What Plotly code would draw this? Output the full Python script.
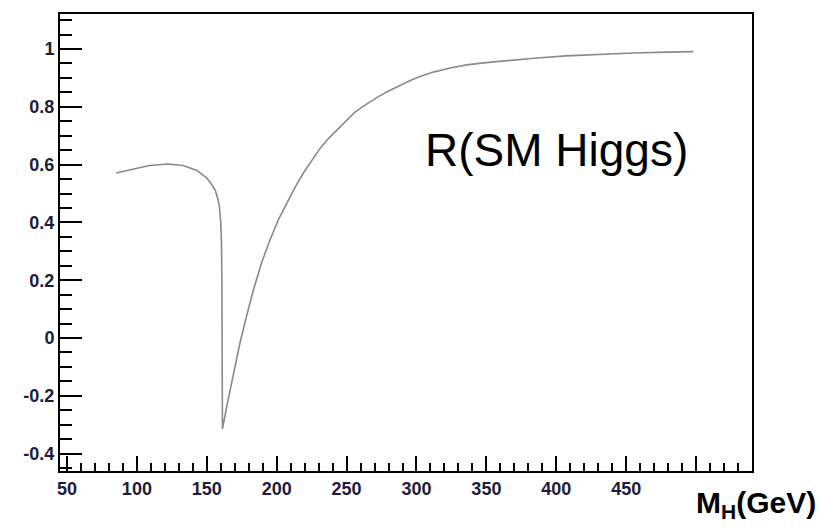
import plotly.graph_objects as go

# Higgs mass (GeV) and the ratio R for the Standard Model Higgs
mass = [85, 97, 109, 122, 133, 143, 150, 153, 156, 158, 159, 160, 160.5,
        160.8, 161.0, 161.2, 164.2, 168.5, 173.7, 178.5, 183.3, 189, 195.2,
        201, 207.2, 213, 219, 225, 231, 237, 243, 249, 255, 261, 267, 273,
        279, 285, 290, 296, 302, 312, 324, 336, 348, 360, 384, 407, 431,
        455, 479, 498]
ratio = [0.571, 0.584, 0.597, 0.602, 0.597, 0.580, 0.553, 0.535, 0.512,
         0.480, 0.454, 0.398, 0.330, 0.200, 0.000, -0.315, -0.238, -0.135,
         -0.018, 0.077, 0.165, 0.258, 0.339, 0.407, 0.466, 0.520, 0.570,
         0.615, 0.656, 0.690, 0.720, 0.750, 0.777, 0.799, 0.818, 0.836,
         0.852, 0.867, 0.879, 0.892, 0.904, 0.920, 0.934, 0.945, 0.952,
         0.958, 0.968, 0.976, 0.982, 0.986, 0.989, 0.991]

x_ticks = [50, 100, 150, 200, 250, 300, 350, 400, 450]
x_labels = ["50", "100", "150", "200", "250", "300", "350", "400", "450"]
x_unlabelled = [500]
y_ticks = [-0.4, -0.2, 0, 0.2, 0.4, 0.6, 0.8, 1]
y_labels = ["-0.4", "-0.2", "0", "0.2", "0.4", "0.6", "0.8", "1"]

x_range = [45, 540]
y_range = [-0.46, 1.121]

tick_font = dict(family="Liberation Sans, Arial", size=18, color="#1c1c3c",
                 weight="bold")

fig = go.Figure()
fig.add_trace(go.Scatter(x=mass, y=ratio, mode="lines",
                         line=dict(color="#8a8a8a", width=1.6),
                         showlegend=False, hoverinfo="skip"))
# empty trace so the overlay axis carrying the last major tick is drawn
fig.add_trace(go.Scatter(x=[None], y=[None], xaxis="x2", mode="lines",
                         showlegend=False, hoverinfo="skip"))

fig.update_layout(
    xaxis=dict(range=x_range, showgrid=False, zeroline=False,
               showline=True, linecolor="black", linewidth=2, mirror=True,
               ticks="inside", ticklen=15, tickwidth=2, tickcolor="black",
               tickvals=x_ticks, ticktext=x_labels, tickfont=tick_font,
               minor=dict(ticks="inside", ticklen=8, tickwidth=2,
                          tickcolor="black", dtick=10, tick0=0)),
    xaxis2=dict(range=x_range, overlaying="x", anchor="y", side="bottom",
                showgrid=False, zeroline=False, showline=False,
                ticks="inside", ticklen=15, tickwidth=2, tickcolor="black",
                tickvals=x_unlabelled, showticklabels=False),
    yaxis=dict(range=y_range, showgrid=False, zeroline=False,
               showline=True, linecolor="black", linewidth=2, mirror=True,
               ticks="inside", ticklen=22, tickwidth=2, tickcolor="black",
               tickvals=y_ticks, ticktext=y_labels, tickfont=tick_font,
               minor=dict(ticks="inside", ticklen=12, tickwidth=2,
                          tickcolor="black", dtick=0.05, tick0=0)),
)

fig.add_annotation(x=400, y=0.65, xref="x", yref="y",
                   text="R(SM Higgs)", showarrow=False,
                   xanchor="center", yanchor="middle",
                   font=dict(family="Liberation Sans, Arial", size=46,
                             color="black"))
fig.add_annotation(x=1.095, y=-0.074, xref="paper", yref="paper",
                   text="<b>M<sub>H</sub>(GeV)</b>", showarrow=False,
                   xanchor="right", yanchor="middle",
                   font=dict(family="Liberation Sans, Arial", size=30,
                             color="black"))

fig.update_layout(width=821, height=531,
                  margin=dict(l=60, r=69, t=14, b=60),
                  plot_bgcolor="white", paper_bgcolor="white")

fig.write_html("out.html")
